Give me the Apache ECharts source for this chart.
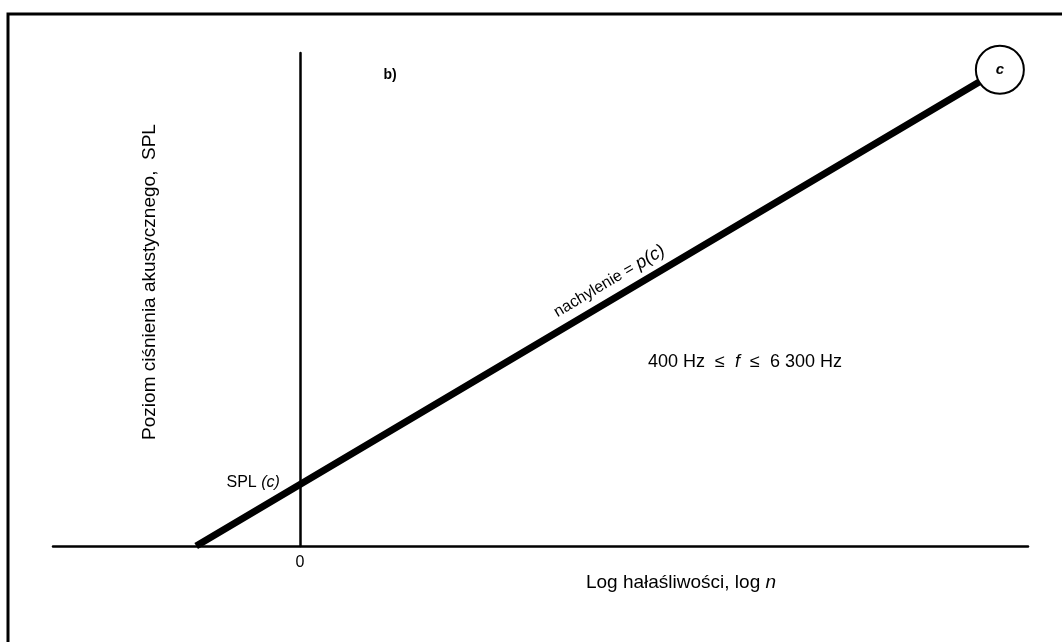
<!DOCTYPE html>
<html>
<head>
<meta charset="utf-8">
<script src="https://cdn.jsdelivr.net/npm/echarts@6/dist/echarts.min.js"></script>
<style>
  html, body { margin: 0; padding: 0; background: #fff; }
  #chart { width: 1062px; height: 642px; }
</style>
</head>
<body>
<div id="chart"></div>
<script>
// Loudness line: SPL against log n, drawn from the axis crossing to the reference point c
const lineX = [-1.05, 7.09];
const lineY = [0, 4.83];
// Reference point c (end of the line)
const pointC = [7.09, 4.83];
// Intercept on the SPL axis, SPL(c)
const interceptY = 0.625;
// Tick labels shown on the log n axis
const xTickValues = [0];

const FONT = '"Liberation Sans", Arial, Helvetica, sans-serif';

const chart = echarts.init(document.getElementById('chart'), null, { renderer: 'canvas' });

const option = {
  backgroundColor: '#ffffff',
  animation: false,
  grid: { left: 53, right: 34, top: 53, bottom: 96, outerBoundsMode: 'none', containLabel: false },
  xAxis: {
    type: 'value',
    min: -2.5,
    max: 7.375,
    axisLine: { show: true, onZero: true, lineStyle: { color: '#000', width: 2.5 } },
    axisTick: { show: false },
    splitLine: { show: false },
    axisLabel: {
      customValues: xTickValues,
      color: '#000',
      fontFamily: FONT,
      fontSize: 16,
      margin: 9
    }
  },
  yAxis: {
    type: 'value',
    min: 0,
    max: 5,
    axisLine: { show: true, onZero: true, lineStyle: { color: '#000', width: 2.5 } },
    axisTick: { show: false },
    splitLine: { show: false },
    axisLabel: { show: false }
  },
  series: [
    {
      type: 'line',
      data: lineX.map((x, i) => [x, lineY[i]]),
      symbol: 'none',
      lineStyle: { color: '#000', width: 7, cap: 'butt' },
      z: 3
    },
    {
      type: 'scatter',
      data: [pointC],
      symbol: 'circle',
      symbolSize: 48,
      itemStyle: { color: '#fff', borderColor: '#000', borderWidth: 2, opacity: 1 },
      label: {
        show: true,
        position: 'inside',
        formatter: 'c',
        color: '#000',
        fontFamily: FONT,
        fontSize: 15,
        fontStyle: 'italic',
        fontWeight: 'bold'
      },
      z: 4
    }
  ]
};

chart.setOption(option);

// Slope label sits above the line, rotated to its direction
const p0 = chart.convertToPixel({ gridIndex: 0 }, [lineX[0], lineY[0]]);
const p1 = chart.convertToPixel({ gridIndex: 0 }, [lineX[1], lineY[1]]);
const ang = Math.atan2(p0[1] - p1[1], p1[0] - p0[0]);
const t = 0.525;
const mx = p0[0] + (p1[0] - p0[0]) * t;
const my = p0[1] + (p1[1] - p0[1]) * t;
const off = 17;
const lx = mx - Math.sin(ang) * off;
const ly = my - Math.cos(ang) * off;

// SPL(c) label, just left of the crossing with the SPL axis
const pc = chart.convertToPixel({ gridIndex: 0 }, [0, interceptY]);

chart.setOption({
  graphic: [
    {
      type: 'polyline',
      shape: { points: [[8, 642], [8, 14], [1062, 14]] },
      style: { stroke: '#000', lineWidth: 3, fill: null },
      silent: true
    },
    {
      type: 'text',
      x: pc[0] - 20, y: pc[1] - 2,
      style: {
        text: 'SPL {i|(c)}',
        fill: '#000',
        font: '16px ' + FONT,
        align: 'right',
        verticalAlign: 'middle',
        rich: { i: { fontStyle: 'italic', fontSize: 16, fontFamily: FONT, fill: '#000' } }
      }
    },
    {
      type: 'text',
      x: lx, y: ly,
      rotation: ang,
      style: {
        text: 'nachylenie = {i|p(c)}',
        fill: '#000',
        font: '16px ' + FONT,
        align: 'center',
        verticalAlign: 'middle',
        rich: { i: { fontStyle: 'italic', fontSize: 18, fontFamily: FONT, fill: '#000' } }
      }
    },
    {
      type: 'text',
      x: 390, y: 75,
      style: {
        text: 'b)',
        fill: '#000',
        font: 'bold 14px ' + FONT,
        align: 'center',
        verticalAlign: 'middle'
      }
    },
    {
      type: 'text',
      x: 745, y: 362,
      style: {
        text: '400 Hz  \u2264  {i|f}  \u2264  6 300 Hz',
        fill: '#000',
        font: '18px ' + FONT,
        align: 'center',
        verticalAlign: 'middle',
        rich: { i: { fontStyle: 'italic', fontSize: 18, fontFamily: FONT, fill: '#000' } }
      }
    },
    {
      type: 'text',
      x: 681, y: 583,
      style: {
        text: 'Log hałaśliwości, log {i|n}',
        fill: '#000',
        font: '19px ' + FONT,
        align: 'center',
        verticalAlign: 'middle',
        rich: { i: { fontStyle: 'italic', fontSize: 19, fontFamily: FONT, fill: '#000' } }
      }
    },
    {
      type: 'text',
      x: 150, y: 282,
      rotation: Math.PI / 2,
      style: {
        text: 'Poziom ciśnienia akustycznego,  SPL',
        fill: '#000',
        font: '19px ' + FONT,
        align: 'center',
        verticalAlign: 'middle'
      }
    }
  ]
});
</script>
</body>
</html>
